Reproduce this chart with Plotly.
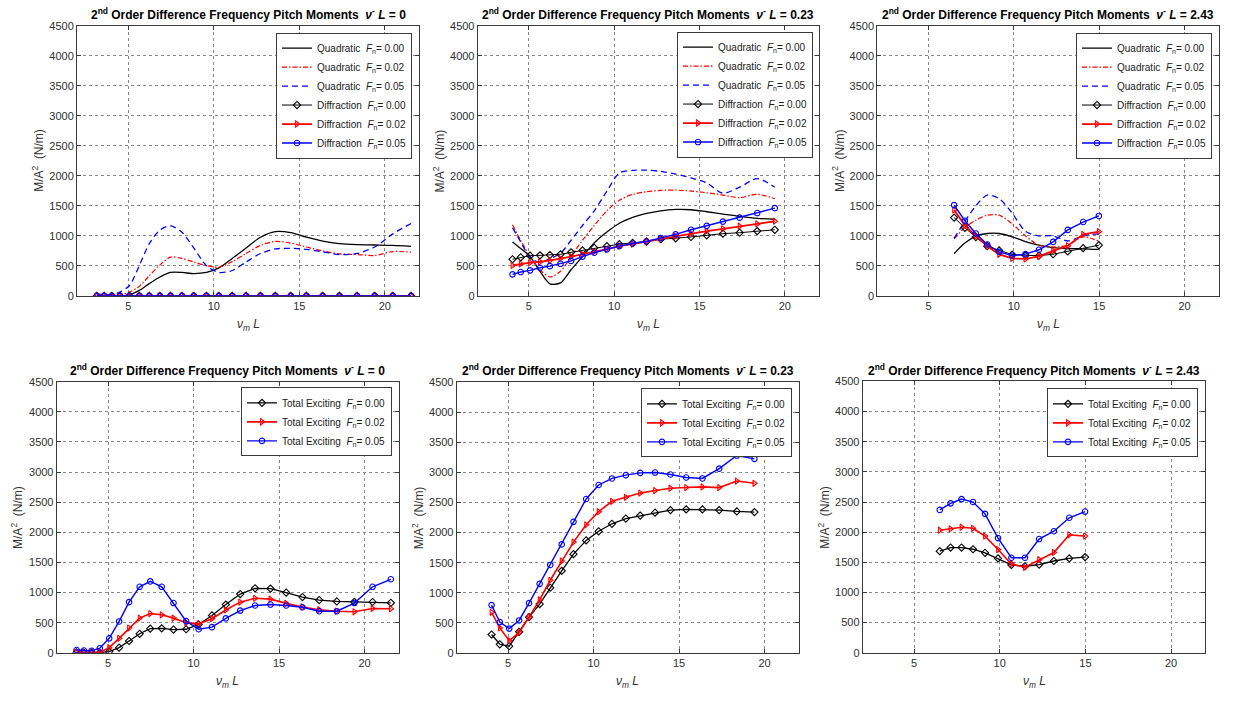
import plotly.graph_objects as go

# ---------------- data: nu_m L grids ----------------
x_nl0 = [3.16, 3.59, 4.04, 4.52, 5.07, 5.65, 6.23, 6.85, 7.47, 8.14, 8.83, 9.57, 10.30,
         11.08, 11.89, 12.73, 13.60, 14.50, 15.42, 16.37, 17.35, 18.38, 19.41, 20.47, 21.54]
x_nl023 = [4.04, 4.52, 5.07, 5.65, 6.23, 6.85, 7.47, 8.14, 8.83, 9.57, 10.30,
           11.08, 11.89, 12.73, 13.60, 14.50, 15.42, 16.37, 17.35, 18.38, 19.41]
x_nl243 = [6.50, 7.13, 7.77, 8.44, 9.14, 9.90, 10.68, 11.47, 12.30, 13.16, 14.06, 14.98]

# ---------------- nu- L = 0 ----------------
quad_f000_0 = [10, 8, 5, 5, 20, 92, 206, 315, 391, 391, 372, 391, 467, 625, 799, 978,
               1071, 1054, 978, 913, 870, 853, 848, 842, 826]
quad_f002_0 = [8, 5, 5, 16, 65, 163, 337, 516, 647, 625, 565, 505, 478, 571, 707, 842,
               908, 880, 815, 750, 701, 690, 674, 739, 728]
quad_f005_0 = [27, 25, 25, 65, 174, 511, 870, 1098, 1168, 1060, 799, 505, 391, 424, 565,
               707, 783, 793, 777, 734, 690, 707, 815, 1033, 1207]
diff_f000_0 = [0, 0, 0, 0, 0, 0, 0, 0, 0, 0, 0, 0, 0, 0, 0, 0, 0, 0, 0, 0, 0, 0, 0, 0, 0]
diff_f002_0 = [0, 0, 0, 0, 0, 0, 0, 0, 0, 0, 0, 0, 0, 0, 0, 0, 0, 0, 0, 0, 0, 0, 0, 0, 0]
diff_f005_0 = [0, 0, 0, 0, 0, 0, 0, 0, 0, 0, 0, 0, 0, 0, 0, 0, 0, 0, 0, 0, 0, 0, 0, 0, 0]
tot_f000_0 = [5, 3, 2, 0, 20, 85, 195, 315, 400, 405, 385, 390, 470, 620, 800, 975,
              1070, 1065, 1000, 925, 875, 852, 845, 843, 830]
tot_f002_0 = [10, 5, 3, 10, 85, 240, 410, 575, 650, 630, 575, 500, 480, 565, 710, 840,
              905, 890, 820, 760, 715, 690, 680, 735, 730]
tot_f005_0 = [45, 38, 33, 75, 240, 520, 840, 1095, 1185, 1095, 825, 525, 390, 425, 570,
              700, 785, 800, 785, 755, 690, 690, 825, 1095, 1220]

# ---------------- nu- L = 0.23 ----------------
quad_f000_023 = [900, 791, 655, 409, 202, 218, 436, 655, 884, 1064, 1211, 1309, 1375,
                 1418, 1440, 1435, 1402, 1364, 1326, 1293, 1277]
quad_f002_023 = [1184, 927, 655, 436, 316, 409, 655, 927, 1173, 1418, 1593, 1691, 1735,
                 1757, 1762, 1746, 1718, 1680, 1637, 1691, 1620]
quad_f005_023 = [1135, 900, 640, 560, 620, 709, 927, 1173, 1418, 1746, 2046, 2089, 2095,
                 2073, 2029, 1964, 1882, 1710, 1811, 1953, 1811]
diff_f000_023 = [611, 644, 671, 676, 682, 693, 726, 758, 802, 829, 862, 884, 906, 944,
                 960, 982, 1009, 1037, 1053, 1080, 1102]
diff_f002_023 = [507, 535, 556, 567, 589, 622, 655, 693, 736, 780, 829, 862, 906, 949,
                 993, 1037, 1080, 1118, 1162, 1200, 1244]
diff_f005_023 = [360, 398, 426, 469, 496, 535, 584, 655, 720, 775, 829, 873, 906, 966,
                 1026, 1102, 1167, 1238, 1304, 1380, 1462]
tot_f000_023 = [304, 141, 109, 348, 592, 810, 1082, 1364, 1641, 1870, 2022, 2147, 2234,
                2283, 2332, 2375, 2386, 2386, 2375, 2353, 2342]
tot_f002_023 = [674, 413, 201, 337, 592, 880, 1207, 1527, 1842, 2130, 2348, 2522, 2587,
                2658, 2701, 2739, 2750, 2761, 2750, 2859, 2821]
tot_f005_023 = [793, 511, 402, 538, 826, 1147, 1462, 1804, 2179, 2560, 2793, 2902, 2957,
                2995, 3000, 2967, 2918, 2902, 3065, 3283, 3228]

# ---------------- nu- L = 2.43 ----------------
quad_f000_243 = [705, 880, 995, 1040, 1040, 985, 905, 845, 805, 790, 785, 775]
quad_f002_243 = [950, 1140, 1260, 1345, 1345, 1200, 1000, 845, 815, 845, 985, 910]
quad_f005_243 = [960, 1240, 1500, 1680, 1620, 1380, 1075, 1000, 1000, 915, 1000, 1035]
diff_f000_243 = [1305, 1135, 980, 828, 758, 690, 676, 670, 695, 742, 796, 845]
diff_f002_243 = [1432, 1176, 1000, 832, 693, 625, 617, 658, 750, 835, 1025, 1070]
diff_f005_243 = [1513, 1252, 1040, 856, 734, 671, 696, 769, 900, 1100, 1231, 1332]
tot_f000_243 = [1685, 1745, 1745, 1717, 1658, 1565, 1457, 1435, 1462, 1522, 1565, 1587]
tot_f002_243 = [2033, 2054, 2082, 2065, 1935, 1712, 1473, 1418, 1543, 1663, 1957, 1935]
tot_f005_243 = [2370, 2478, 2549, 2500, 2304, 1902, 1576, 1576, 1886, 2016, 2239, 2342]

nl_labels = ["0", "0.23", "2.43"]
froude_labels = ["0.00", "0.02", "0.05"]
x_ticks = [5, 10, 15, 20]

# ---------------- layout helpers ----------------
W, H = 1239, 702
# axes boxes in pixels: left, right, top, bottom
boxes = [
    (77.0, 419.0, 20.0, 295.0),
    (477.7, 819.0, 20.0, 295.0),
    (877.3, 1218.7, 20.0, 295.0),
    (56.7, 398.7, 382.3, 658.0),
    (456.7, 798.7, 383.0, 658.0),
    (862.7, 1205.3, 382.0, 658.0),
]
legend_corner = [(412, 27), (813, 26), (1212, 27), (392, 388), (792, 389), (1198, 389)]

BLACK, RED, BLUE = "#000000", "#ff0000", "#0000ff"
FONT = "Arial, Liberation Sans, Helvetica, sans-serif"

fig = go.Figure()


def fn_label(kind, f):
    return f"{kind}  <i>F</i><sub>n</sub>= {f}"


def add_line(panel, x, y, name, color, width, dash="solid", symbol=None, spline=False):
    suffix = "" if panel == 1 else str(panel)
    mode = "lines+markers" if symbol else "lines"
    tr = dict(
        x=x, y=y, name=name, mode=mode,
        xaxis="x" + suffix, yaxis="y" + suffix,
        legend="legend" + suffix,
        line=dict(color=color, width=width, dash=dash,
                  shape="spline" if spline else "linear", smoothing=0.8),
        hoverinfo="x+y+name",
    )
    if symbol:
        tr["marker"] = dict(symbol=symbol, size=5.5, color=color,
                            line=dict(color=color, width=1.1))
    fig.add_trace(go.Scatter(**tr))


quad_sets = [
    (x_nl0, [quad_f000_0, quad_f002_0, quad_f005_0], [diff_f000_0, diff_f002_0, diff_f005_0]),
    (x_nl023, [quad_f000_023, quad_f002_023, quad_f005_023],
     [diff_f000_023, diff_f002_023, diff_f005_023]),
    (x_nl243, [quad_f000_243, quad_f002_243, quad_f005_243],
     [diff_f000_243, diff_f002_243, diff_f005_243]),
]
tot_sets = [
    (x_nl0, [tot_f000_0, tot_f002_0, tot_f005_0]),
    (x_nl023, [tot_f000_023, tot_f002_023, tot_f005_023]),
    (x_nl243, [tot_f000_243, tot_f002_243, tot_f005_243]),
]

colors = [BLACK, RED, BLUE]
quad_dash = ["solid", "5px,2px,1.5px,2px", "6px,4px"]
quad_width = [1.3, 1.2, 1.3]
symbols = ["diamond-open", "triangle-right-open", "circle-open"]
diff_width = [1.0, 1.8, 1.4]

for p, (xs, quads, diffs) in enumerate(quad_sets, start=1):
    for k in range(3):
        add_line(p, xs, quads[k], fn_label("Quadratic", froude_labels[k]),
                 colors[k], quad_width[k], dash=quad_dash[k], spline=True)
    for k in range(3):
        add_line(p, xs, diffs[k], fn_label("Diffraction", froude_labels[k]),
                 colors[k], diff_width[k], symbol=symbols[k])

tot_width = [1.3, 1.6, 1.4]
for p, (xs, tots) in enumerate(tot_sets, start=4):
    for k in range(3):
        add_line(p, xs, tots[k], fn_label("Total Exciting", froude_labels[k]),
                 colors[k], tot_width[k], symbol=symbols[k])

layout = dict(
    width=W, height=H, autosize=False,
    margin=dict(l=0, r=0, t=0, b=0),
    paper_bgcolor="white", plot_bgcolor="white",
    font=dict(family=FONT, size=11, color="#262626"),
    showlegend=True,
)

annotations = []
for i, (l, r, t, b) in enumerate(boxes, start=1):
    suffix = "" if i == 1 else str(i)
    xd = [l / W, r / W]
    yd = [1 - b / H, 1 - t / H]
    common = dict(
        showline=True, linecolor="#3a3a3a", linewidth=1, mirror="ticks",
        ticks="inside", ticklen=4, tickcolor="#3a3a3a",
        showgrid=True, gridcolor="#8a8a8a", griddash="dot", gridwidth=1,
        zeroline=False, tickfont=dict(family=FONT, size=11, color="#303030"),
    )
    layout["xaxis" + suffix] = dict(
        domain=xd, range=[2, 22], tickvals=x_ticks, anchor="y" + suffix, **common)
    layout["yaxis" + suffix] = dict(
        domain=yd, range=[0, 4500], dtick=500, anchor="x" + suffix, **common)

    lx, ty = legend_corner[i - 1]
    layout["legend" + suffix] = dict(
        x=lx / W, y=1 - ty / H, xanchor="right", yanchor="top",
        bgcolor="white", bordercolor="#3a3a3a", borderwidth=1,
        font=dict(family=FONT, size=10, color="#1a1a1a"),
        itemwidth=30, tracegroupgap=0,
    )

    nl = nl_labels[(i - 1) % 3]
    annotations.append(dict(
        xref="paper", yref="paper", x=(l + r) / 2 / W, y=1 - (t - 2) / H,
        xanchor="center", yanchor="bottom", showarrow=False,
        text=f"<b>2<sup>nd</sup> Order Difference Frequency Pitch Moments  "
             f"<i>ν</i><sup>-</sup> <i>L</i> = {nl}</b>",
        font=dict(family=FONT, size=12, color="black"),
    ))
    annotations.append(dict(
        xref="paper", yref="paper", x=(l + r) / 2 / W, y=1 - (b + 30) / H,
        xanchor="center", yanchor="middle", showarrow=False,
        text="<i>ν</i><sub><i>m</i></sub> <i>L</i>",
        font=dict(family=FONT, size=12, color="#303030"),
    ))
    annotations.append(dict(
        xref="paper", yref="paper", x=(l - 39) / W, y=1 - (t + b) / 2 / H,
        xanchor="center", yanchor="middle", showarrow=False, textangle=-90,
        text="M/A<sup>2</sup>  (N/m)",
        font=dict(family=FONT, size=12, color="#303030"),
    ))

layout["annotations"] = annotations
fig.update_layout(**layout)
fig.write_html("out.html")
